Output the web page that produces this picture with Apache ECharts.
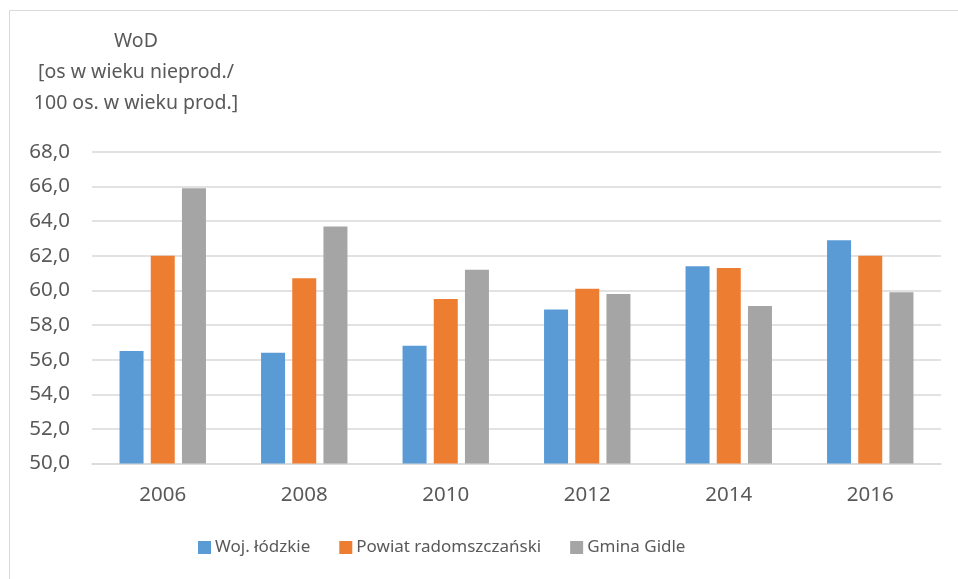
<!DOCTYPE html>
<html>
<head>
<meta charset="utf-8">
<script src="https://cdn.jsdelivr.net/npm/echarts@6/dist/echarts.min.js"></script>
<style>
  html, body { margin: 0; padding: 0; background: #fff; }
  #chart { width: 958px; height: 579px; }
</style>
</head>
<body>
<div id="chart"></div>
<script>
const years = ['2006', '2008', '2010', '2012', '2014', '2016']
const wojLodzkie = [56.5, 56.4, 56.8, 58.9, 61.4, 62.9]
const powiatRadomszczanski = [62.0, 60.7, 59.5, 60.1, 61.3, 62.0]
const gminaGidle = [65.9, 63.7, 61.2, 59.8, 59.1, 59.9]

const textColor = '#595959'
const fontFamily = '"Noto Sans", sans-serif'

const myChart = echarts.init(document.getElementById('chart'))

const barSeries = (name, data, color) => ({
  name: name,
  type: 'bar',
  data: data,
  barWidth: 24,
  barGap: '30%',
  itemStyle: { color: color }
})

myChart.setOption({
  animation: false,
  textStyle: { fontFamily: fontFamily },
  graphic: [
    {
      type: 'rect',
      shape: { x: 9.5, y: 10.5, width: 1000, height: 1000 },
      style: { fill: 'none', stroke: '#D9D9D9', lineWidth: 1 },
      silent: true
    }
  ],
  title: {
    text: 'WoD\n[os w wieku nieprod./\n100 os. w wieku prod.]',
    left: 131,
    top: 21,
    textAlign: 'center',
    textStyle: {
      color: textColor,
      fontSize: 19.5,
      fontWeight: 'normal',
      lineHeight: 31,
      fontFamily: fontFamily
    }
  },
  grid: {
    left: 92,
    right: 17,
    top: 152,
    bottom: 115.5,
    containLabel: false
  },
  legend: {
    bottom: 18,
    left: 193,
    itemWidth: 13,
    itemHeight: 13,
    itemGap: 29,
    icon: 'rect',
    textStyle: { color: textColor, fontSize: 17, fontFamily: fontFamily, padding: [0, 0, 0, -1] },
    data: ['Woj. łódzkie', 'Powiat radomszczański', 'Gmina Gidle']
  },
  xAxis: {
    type: 'category',
    data: years,
    axisLine: { lineStyle: { color: '#D9D9D9', width: 1.5 } },
    axisTick: { show: false },
    axisLabel: { color: textColor, fontSize: 20.5, margin: 21 }
  },
  yAxis: {
    type: 'value',
    min: 50,
    max: 68,
    interval: 2,
    axisLine: { show: false },
    axisTick: { show: false },
    splitLine: { lineStyle: { color: '#D9D9D9', width: 1.5 } },
    axisLabel: {
      color: textColor,
      fontSize: 20.5,
      margin: 22,
      formatter: (v) => v.toFixed(1).replace('.', ',')
    }
  },
  series: [
    barSeries('Woj. łódzkie', wojLodzkie, '#5B9BD5'),
    barSeries('Powiat radomszczański', powiatRadomszczanski, '#ED7D31'),
    barSeries('Gmina Gidle', gminaGidle, '#A5A5A5')
  ]
})
</script>
</body>
</html>
